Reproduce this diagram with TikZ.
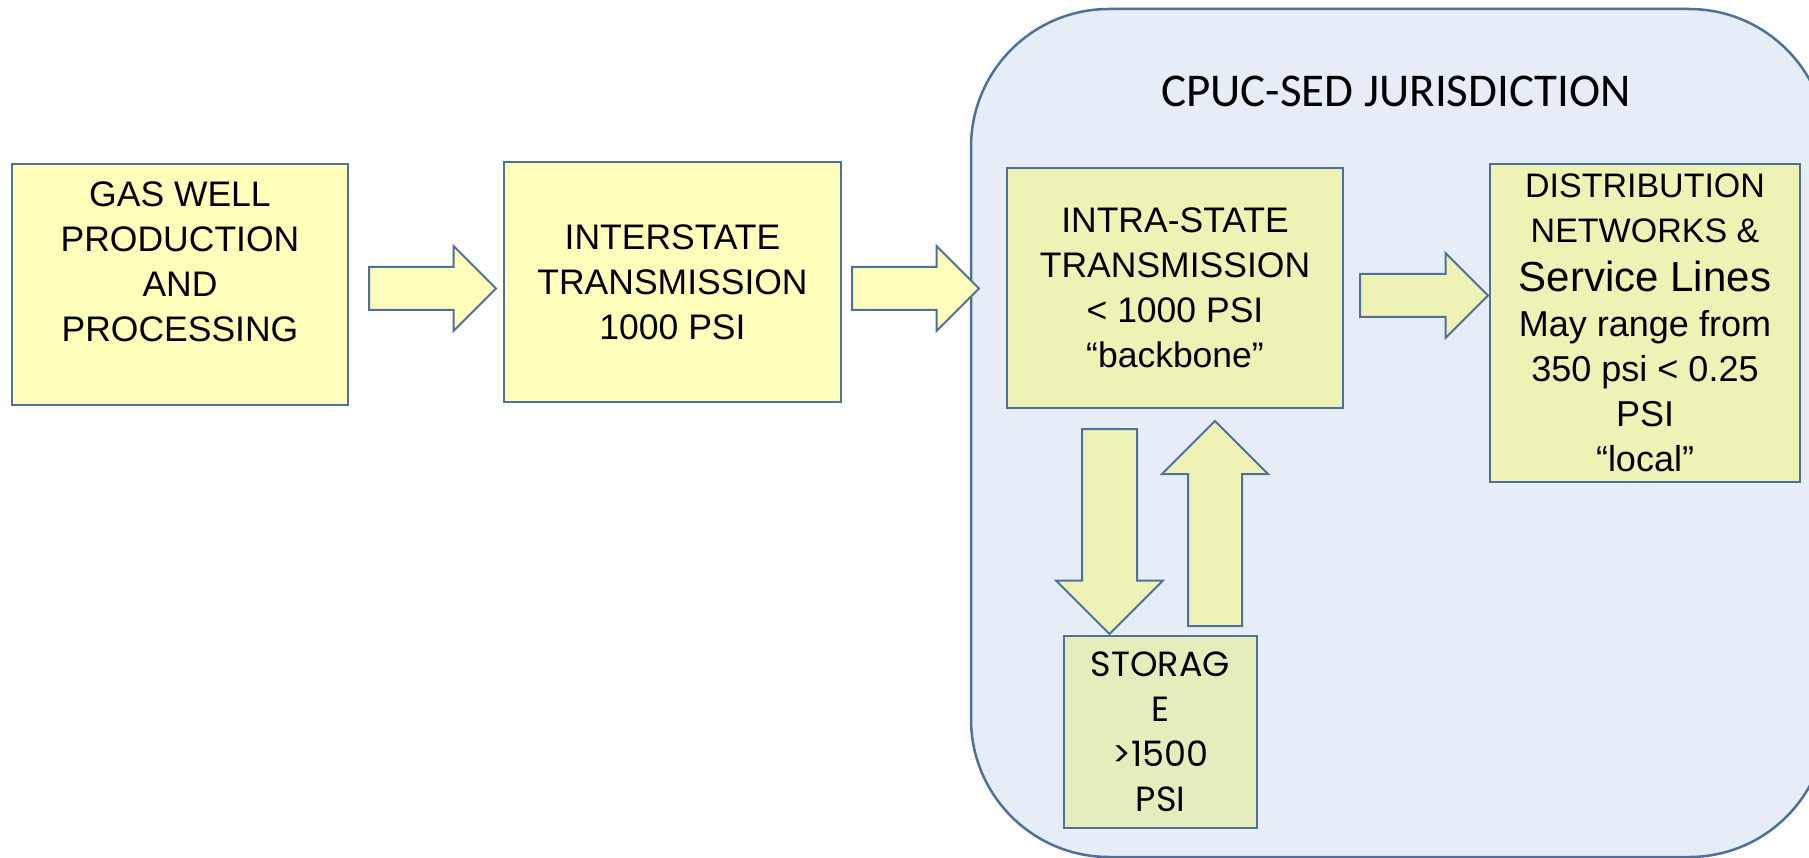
\documentclass[tikz,border=0pt]{standalone}
\usepackage{fontspec}
\setmainfont{Liberation Sans}
\newfontfamily\calibrifont{Carlito}
\newfontfamily\gothicfont{Poppins}
\usetikzlibrary{shapes.arrows}

\definecolor{edgeblue}{HTML}{4F7099}
\definecolor{paleyellow}{HTML}{FFFFBB}
\definecolor{greenyellow}{HTML}{EEF2B5}
\definecolor{storefill}{HTML}{E6EDBC}
\definecolor{sedfill}{HTML}{E6EDF6}

\begin{document}
\begin{tikzpicture}[x=1pt, y=-1pt,
    box/.style={rectangle, draw=edgeblue, line width=2pt, inner sep=0pt, align=center,
        font=\fontsize{35.5}{45}\selectfont},
    flow/.style={single arrow, draw=edgeblue, line width=2pt, inner xsep=0pt, inner ysep=20.5pt,
        single arrow head extend=21pt, anchor=tail}]
    \useasboundingbox (0,0) rectangle (1809,858);
    \fill[white] (0,0) rectangle (1809,858);
    \clip (0,0) rectangle (1809,858);
    \node[draw=edgeblue, line width=2.5pt, fill=sedfill, rounded corners=138pt,
        minimum width=856pt, minimum height=848pt] (sed) at (1399,433) {};
    \node[anchor=base, font=\calibrifont\fontsize{47}{56}\selectfont] (sedtitle) at (1396,107) {CPUC-SED JURISDICTION};
    \node[box, fill=paleyellow, minimum width=336pt, minimum height=241pt] (well) at (180,284.5)
        {GAS WELL\\PRODUCTION\\AND\\PROCESSING\\\mbox{}};
    \node[box, fill=paleyellow, minimum width=337pt, minimum height=240pt] (inter) at (672.5,282)
        {INTERSTATE\\TRANSMISSION\\1000 PSI};
    \node[box, fill=greenyellow, minimum width=336pt, minimum height=240pt] (intra) at (1175,288)
        {INTRA-STATE\\TRANSMISSION\\< 1000 PSI\\“backbone”};
    \node[box, fill=greenyellow, minimum width=310pt, minimum height=318pt,
        font=\fontsize{36}{45}\selectfont] (dist) at (1645,323)
        {{\fontsize{34}{45}\selectfont DISTRIBUTION}\\{\fontsize{34}{45}\selectfont NETWORKS \&}\\[4pt]
         {\fontsize{42}{50}\selectfont Service Lines}\\May range from\\350 psi < 0.25\\PSI\\“local”};
    \node[box, fill=storefill, minimum width=193pt, minimum height=192pt,
        font=\gothicfont\fontsize{35}{45}\selectfont] (store) at (1160.5,732)
        {STORAG\\E\\>1500\\PSI};
    \node[flow, fill=paleyellow, minimum height=127pt] (a1) at (368,288.5) {};
    \node[flow, fill=paleyellow, minimum height=127pt] (a2) at (851,288.5) {};
    \node[flow, fill=greenyellow, minimum height=128pt] (a3) at (1359,295.5) {};
    \node[flow, fill=greenyellow, rotate=-90, minimum height=205pt, inner ysep=26.5pt,
        single arrow head extend=26pt] (tostore) at (1109.5,428) {};
    \node[flow, fill=greenyellow, rotate=90, minimum height=205pt, inner ysep=26pt,
        single arrow head extend=26pt] (fromstore) at (1215,627) {};
\end{tikzpicture}
\end{document}
